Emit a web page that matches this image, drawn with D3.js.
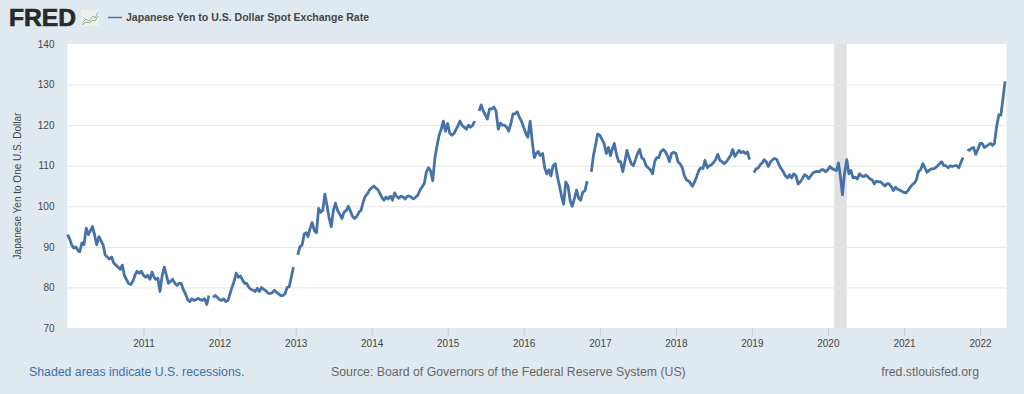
<!DOCTYPE html>
<html>
<head>
<meta charset="utf-8">
<title>Japanese Yen to U.S. Dollar Spot Exchange Rate</title>
<script src="https://d3js.org/d3.v7.min.js"></script>
<style>
  html, body { margin: 0; padding: 0; background: #e1e9f0; }
  svg { display: block; font-family: "Liberation Sans", Arial, sans-serif; }
  .axis path { display: none; }
  .x-axis line { stroke: #c0d0e0; }
  .y-axis line { stroke: #e6e6e6; }
  .axis text { fill: #444; font-size: 10px; }
</style>
</head>
<body>
<svg id="chart"></svg>
<script>
// values, three readings a month (1st, 11th, 21st), null = gap in the line
const yen2010 = [93,92,90.5,89.7,90,89,88.8,91,90.5,94.6,93,94,95,93,90.5,92.5,91.5,90.5,88,87.5,87,87.5,86,85.5,85,84.5,85.5,83,82,81,80.7,81.5,83,84,83.5,84];
const yen2011 = [83,82.5,83,82,83.8,82.5,82,82.3,79,83,85,83,81,81.5,82,81,80.5,81,81,79.5,78.5,77,76.5,77.2,76.8,77,77.3,77,76.8,77.2,75.8,78,null,77.5,78,77.6];
const yen2012 = [77,76.8,77.2,76.5,76.8,78.5,80,81.5,83.5,82.5,82.8,81.8,81,81,80,79.5,79.3,79,79.8,79,80,79.5,79.2,78.6,78.5,78.7,79.3,78.8,78.4,78,78,78.5,80,80.2,82.5,85];
const yen2013 = [null,88,90,90.5,93.2,93.5,92.5,94.5,96,94,93.5,99.5,98.5,99,103,100,97,95,99,100.8,99,98,97,98.5,99,100,98.8,97.5,97,97.5,98.5,99,101,102.5,103,104];
const yen2014 = [104.5,105,104.5,104,103,102,101.5,102.3,101.8,102.5,101.5,103.3,102.5,102,102.5,102.3,101.8,102.5,102.5,102.2,101.8,102.3,102.8,104,104.8,105.7,108.5,109.5,108.7,106.3,112,115,117.5,119,121,118.5];
const yen2015 = [120.4,118,117.5,118,119,120,121,120,119.5,119,120,119.5,120,121,null,123.5,125,123.5,122.5,121.5,124,124,124.5,123.5,119,120.5,120,120,119.5,118.5,120.5,122.8,122.8,123.3,122,121];
const yen2016 = [119.5,118,117,121,116,112,113,113.5,112.5,113,109.5,108,109,107.5,110,110.5,107.3,105,102.5,100.5,106,105,101.5,100,102,104,102,101.5,103.5,103.8,106.2,null,108.5,112.5,115,117.8];
const yen2017 = [117.5,116.5,115.5,113,114.5,112.5,114,115.5,113,111,111,108.5,111,113.8,112,110.5,110,111.5,113,114,112,111.5,110,109.5,109,108,111,112,112,113.5,114,113.5,112.5,111,113,113.3];
const yen2018 = [113,111,110.5,109.5,107.5,106.5,106.3,105.8,104.9,106,107.3,108.8,109.5,109.3,111.3,109.5,110,110.2,110.8,111.5,112.8,111.3,111,110.5,111,111.8,112.5,114,112.3,113,113.8,113.2,113.5,113,113.4,111.5];
const yen2019 = [null,108.3,109.2,109.5,110.3,110.8,111.5,111,109.8,111,111.5,111.8,111.5,110.3,109.3,108.5,107.5,107,107.8,107,108,107.5,105.5,106,106.8,107.8,107.5,106.8,107.5,108.2,108.5,108.6,108.5,109,109,108.5];
const yen2020 = [109,109.8,109.3,109,108.8,110.7,107.5,102.8,108,111.5,108,108.8,107,107.2,106.7,108,107.5,107.3,107.7,107.3,106.8,106.5,105.5,106.2,106,106,105.5,105,105.6,105.5,104.8,103.9,104.7,104.2,104,103.7];
const yen2021 = [103.4,103.3,104,104.8,105.4,105.8,106.5,108.5,109,110.5,109.5,108.4,108.8,109.2,109.2,109.5,110,110.5,111,110,110,109.5,110,109.8,110,110,109.5,110.8,112,null,114,113.8,114.3,114.5,112.8,114];
const yen2022 = [115.5,115.5,114.5,114.8,115.2,115.5,115,115.5,119.5,122.5,122.5,126.5,130.8];

const years = [2010,2011,2012,2013,2014,2015,2016,2017,2018,2019,2020,2021,2022];
const yearValues = [yen2010,yen2011,yen2012,yen2013,yen2014,yen2015,yen2016,yen2017,yen2018,yen2019,yen2020,yen2021,yen2022];
const readingDays = [1,11,21];

const yTicks = [70,80,90,100,110,120,130,140];
const xTickYears = [2011,2012,2013,2014,2015,2016,2017,2018,2019,2020,2021,2022];

const recessionStart = new Date(2020,1,1);
const recessionEnd = new Date(2020,3,1);

const seriesTitle = 'Japanese Yen to U.S. Dollar Spot Exchange Rate';
const yTitle = 'Japanese Yen to One U.S. Dollar';

// flatten the yearly lists into {date, value}
const data = [];
years.forEach((yr, y) => {
  yearValues[y].forEach((v, i) => {
    data.push({
      date: new Date(yr, Math.floor(i / 3), readingDays[i % 3]),
      value: v
    });
  });
});

const config = { width: 1024, height: 394, margin: { top: 44, bottom: 66, right: 17.5, left: 67.5 } };
const width = config.width - config.margin.left - config.margin.right;
const height = config.height - config.margin.top - config.margin.bottom;

const svg = d3.select('#chart')
    .attr('width', config.width)
    .attr('height', config.height);

const xScale = d3.scaleTime()
    .domain([new Date(2010,0,1), new Date(2022,4,8)])
    .range([0, width]);

const yScale = d3.scaleLinear()
    .domain([70, 140])
    .range([height, 0]);

const chart = svg.append('g')
    .attr('transform', `translate(${config.margin.left},${config.margin.top})`);

// plot background
chart.append('rect')
    .attr('width', width)
    .attr('height', height)
    .attr('fill', '#fff');

// recession band
chart.append('rect')
    .attr('x', xScale(recessionStart))
    .attr('y', 0)
    .attr('width', xScale(recessionEnd) - xScale(recessionStart))
    .attr('height', height)
    .attr('fill', '#e1e1e1');

// axes, the y ticks double as gridlines
const xAxis = d3.axisBottom(xScale)
    .tickValues(xTickYears.map(y => new Date(y,0,1)))
    .tickFormat(d3.timeFormat('%Y'))
    .tickSize(8)
    .tickPadding(4);

const yAxis = d3.axisLeft(yScale)
    .tickValues(yTicks)
    .tickSize(-width)
    .tickPadding(13);

chart.append('g')
    .attr('class', 'axis y-axis')
    .call(yAxis);

chart.append('g')
    .attr('class', 'axis x-axis')
    .attr('transform', `translate(0,${height})`)
    .call(xAxis);

// keep the top gridline off the page colour
chart.select('.y-axis').selectAll('.tick')
    .filter(d => d === 70 || d === 140)
    .select('line').attr('stroke-opacity', 0);

const line = d3.line()
    .defined(d => d.value !== null)
    .x(d => xScale(d.date))
    .y(d => yScale(d.value));

// thicker than 1px: the original is daily data, its wiggle reads as a heavy line
chart.append('path')
    .datum(data)
    .attr('fill', 'none')
    .attr('stroke', '#4572a7')
    .attr('stroke-width', 2.8)
    .attr('stroke-linejoin', 'round')
    .attr('d', line);

// y title
svg.append('text')
    .attr('transform', 'translate(21,186) rotate(-90)')
    .attr('text-anchor', 'middle')
    .attr('fill', '#444')
    .attr('font-size', 10)
    .text(yTitle);

// header: logo + legend
svg.append('text')
    .attr('x', 9)
    .attr('y', 26)
    .attr('font-size', 24)
    .attr('font-weight', 700)
    .attr('fill', '#2a2a2a')
    .attr('stroke', '#2a2a2a')
    .attr('stroke-width', 0.7)
    .attr('textLength', 67)
    .attr('lengthAdjust', 'spacingAndGlyphs')
    .text('FRED');

const logo = svg.append('g').attr('transform', 'translate(81,10)');
logo.append('rect').attr('width', 18).attr('height', 16).attr('fill', '#eef0ec');
logo.append('path').attr('d', 'M1 13L5 9L8 11L12 6L14 8L17 2').attr('fill', 'none').attr('stroke', '#7fa5c8').attr('stroke-width', 0.9);
logo.append('path').attr('d', 'M1 15L5 12L8 13L12 10L14 11L17 6').attr('fill', 'none').attr('stroke', '#8aaa5a').attr('stroke-width', 0.9);

svg.append('line')
    .attr('x1', 108).attr('x2', 122)
    .attr('y1', 17.5).attr('y2', 17.5)
    .attr('stroke', '#4572a7')
    .attr('stroke-width', 1.5);

svg.append('text')
    .attr('x', 126)
    .attr('y', 21)
    .attr('font-size', 10)
    .attr('font-weight', 700)
    .attr('fill', '#444')
    .attr('textLength', 243)
    .attr('lengthAdjust', 'spacingAndGlyphs')
    .text(seriesTitle);

// footer
svg.append('text')
    .attr('x', 29).attr('y', 376)
    .attr('font-size', 12.3)
    .attr('fill', '#3e6ea8')
    .text('Shaded areas indicate U.S. recessions.');

svg.append('text')
    .attr('x', 331).attr('y', 376)
    .attr('font-size', 12.3)
    .attr('fill', '#666')
    .text('Source: Board of Governors of the Federal Reserve System (US)');

svg.append('text')
    .attr('x', 979).attr('y', 376)
    .attr('text-anchor', 'end')
    .attr('font-size', 12.3)
    .attr('fill', '#666')
    .text('fred.stlouisfed.org');
</script>
</body>
</html>
